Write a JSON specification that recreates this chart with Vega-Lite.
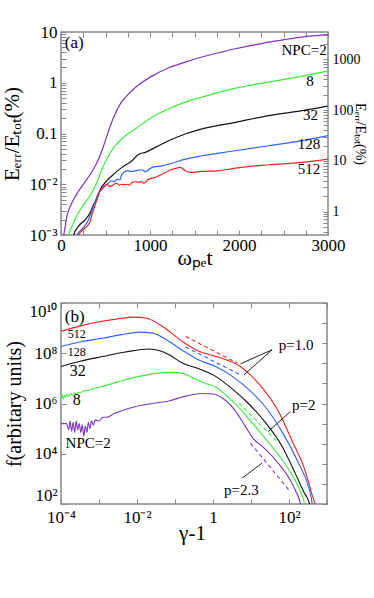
{
"$schema": "https://vega.github.io/schema/vega-lite/v6.json",
"background": "white",
"padding": {"left": 1, "top": 22, "right": 5, "bottom": 5},
"spacing": 32,
"config": {
  "font": "Liberation Serif",
  "view": {"stroke": "#888888", "strokeWidth": 1.5},
  "style": {"guide-label": {"font": "Liberation Serif"}, "guide-title": {"font": "Liberation Serif"}},
  "axis": {"domain": false, "grid": false, "tickColor": "#888888", "tickWidth": 1, "tickSize": -5, "labelPadding": 9, "labelFont": "Liberation Serif", "labelFontSize": 17, "labelColor": "black", "labelFlush": false, "labelOverlap": false, "titleFont": "Liberation Serif", "titleFontWeight": "normal", "titleColor": "black"},
  "text": {"font": "Liberation Serif", "color": "black"}
},
"datasets": {
  "energy": [
    {"t":22,"v":0.0009,"npc":"2"},{"t":30,"v":0.001,"npc":"2"},{"t":67,"v":0.00238,"npc":"2"},{"t":124,"v":0.00436,"npc":"2"},{"t":199,"v":0.0074,"npc":"2"},{"t":292,"v":0.0126,"npc":"2"},{"t":367,"v":0.0199,"npc":"2"},{"t":422,"v":0.0313,"npc":"2"},{"t":479,"v":0.0574,"npc":"2"},{"t":535,"v":0.1135,"npc":"2"},{"t":592,"v":0.209,"npc":"2"},{"t":667,"v":0.383,"npc":"2"},{"t":760,"v":0.604,"npc":"2"},{"t":873,"v":0.912,"npc":"2"},{"t":1022,"v":1.35,"npc":"2"},{"t":1210,"v":1.97,"npc":"2"},{"t":1397,"v":2.55,"npc":"2"},{"t":1584,"v":3.21,"npc":"2"},{"t":1772,"v":3.9,"npc":"2"},{"t":1959,"v":4.68,"npc":"2"},{"t":2147,"v":5.43,"npc":"2"},{"t":2334,"v":6.34,"npc":"2"},{"t":2521,"v":7.14,"npc":"2"},{"t":2708,"v":7.94,"npc":"2"},{"t":2997,"v":8.85,"npc":"2"},
    {"t":75,"v":0.0009,"npc":"8"},{"t":82,"v":0.001,"npc":"8"},{"t":124,"v":0.0015,"npc":"8"},{"t":199,"v":0.0028,"npc":"8"},{"t":273,"v":0.0044,"npc":"8"},{"t":348,"v":0.0069,"npc":"8"},{"t":404,"v":0.0109,"npc":"8"},{"t":461,"v":0.02,"npc":"8"},{"t":535,"v":0.0364,"npc":"8"},{"t":610,"v":0.0574,"npc":"8"},{"t":723,"v":0.0906,"npc":"8"},{"t":835,"v":0.123,"npc":"8"},{"t":1022,"v":0.209,"npc":"8"},{"t":1210,"v":0.305,"npc":"8"},{"t":1397,"v":0.414,"npc":"8"},{"t":1584,"v":0.519,"npc":"8"},{"t":1959,"v":0.782,"npc":"8"},{"t":2334,"v":1.03,"npc":"8"},{"t":2708,"v":1.35,"npc":"8"},{"t":2997,"v":1.69,"npc":"8"},
    {"t":135,"v":0.0009,"npc":"32"},{"t":142,"v":0.001,"npc":"32"},{"t":199,"v":0.0015,"npc":"32"},{"t":273,"v":0.002,"npc":"32"},{"t":330,"v":0.0028,"npc":"32"},{"t":367,"v":0.004,"npc":"32"},{"t":404,"v":0.0051,"npc":"32"},{"t":442,"v":0.008,"npc":"32"},{"t":498,"v":0.0109,"npc":"32"},{"t":573,"v":0.0147,"npc":"32"},{"t":685,"v":0.0215,"npc":"32"},{"t":798,"v":0.029,"npc":"32"},{"t":873,"v":0.039,"npc":"32"},{"t":948,"v":0.0425,"npc":"32"},{"t":1060,"v":0.0533,"npc":"32"},{"t":1210,"v":0.0721,"npc":"32"},{"t":1397,"v":0.0977,"npc":"32"},{"t":1584,"v":0.123,"npc":"32"},{"t":1959,"v":0.166,"npc":"32"},{"t":2334,"v":0.225,"npc":"32"},{"t":2708,"v":0.282,"npc":"32"},{"t":2997,"v":0.345,"npc":"32"},
    {"t":172,"v":0.0009,"npc":"128"},{"t":180,"v":0.001,"npc":"128"},{"t":236,"v":0.0013,"npc":"128"},{"t":303,"v":0.0019,"npc":"128"},{"t":341,"v":0.0028,"npc":"128"},{"t":379,"v":0.0044,"npc":"128"},{"t":416,"v":0.0064,"npc":"128"},{"t":461,"v":0.008,"npc":"128"},{"t":517,"v":0.01,"npc":"128"},{"t":573,"v":0.0117,"npc":"128"},{"t":600,"v":0.0112,"npc":"128"},{"t":629,"v":0.0126,"npc":"128"},{"t":660,"v":0.0122,"npc":"128"},{"t":685,"v":0.0158,"npc":"128"},{"t":742,"v":0.0184,"npc":"128"},{"t":790,"v":0.0178,"npc":"128"},{"t":835,"v":0.0184,"npc":"128"},{"t":910,"v":0.0193,"npc":"128"},{"t":948,"v":0.0176,"npc":"128"},{"t":1022,"v":0.0215,"npc":"128"},{"t":1135,"v":0.0231,"npc":"128"},{"t":1210,"v":0.0249,"npc":"128"},{"t":1397,"v":0.0313,"npc":"128"},{"t":1584,"v":0.0364,"npc":"128"},{"t":1959,"v":0.0457,"npc":"128"},{"t":2334,"v":0.0574,"npc":"128"},{"t":2708,"v":0.0721,"npc":"128"},{"t":2997,"v":0.0906,"npc":"128"},
    {"t":190,"v":0.0009,"npc":"512"},{"t":199,"v":0.001,"npc":"512"},{"t":255,"v":0.0013,"npc":"512"},{"t":303,"v":0.00156,"npc":"512"},{"t":330,"v":0.0019,"npc":"512"},{"t":356,"v":0.0028,"npc":"512"},{"t":393,"v":0.0044,"npc":"512"},{"t":430,"v":0.0069,"npc":"512"},{"t":468,"v":0.0086,"npc":"512"},{"t":517,"v":0.01,"npc":"512"},{"t":545,"v":0.0091,"npc":"512"},{"t":573,"v":0.0093,"npc":"512"},{"t":600,"v":0.0101,"npc":"512"},{"t":629,"v":0.0104,"npc":"512"},{"t":650,"v":0.0096,"npc":"512"},{"t":685,"v":0.01,"npc":"512"},{"t":710,"v":0.0098,"npc":"512"},{"t":742,"v":0.01,"npc":"512"},{"t":770,"v":0.0096,"npc":"512"},{"t":798,"v":0.0109,"npc":"512"},{"t":840,"v":0.0112,"npc":"512"},{"t":873,"v":0.011,"npc":"512"},{"t":900,"v":0.0113,"npc":"512"},{"t":929,"v":0.0105,"npc":"512"},{"t":985,"v":0.0126,"npc":"512"},{"t":1060,"v":0.0136,"npc":"512"},{"t":1135,"v":0.0158,"npc":"512"},{"t":1210,"v":0.0184,"npc":"512"},{"t":1285,"v":0.0205,"npc":"512"},{"t":1341,"v":0.0215,"npc":"512"},{"t":1397,"v":0.0184,"npc":"512"},{"t":1453,"v":0.0171,"npc":"512"},{"t":1584,"v":0.0179,"npc":"512"},{"t":1772,"v":0.0184,"npc":"512"},{"t":1959,"v":0.0208,"npc":"512"},{"t":2334,"v":0.0242,"npc":"512"},{"t":2708,"v":0.0269,"npc":"512"},{"t":2997,"v":0.0313,"npc":"512"}
  ],
  "labA": [
    {"x":2985,"y":4.33,"label":"NPC=2"},{"x":2840,"y":1.1,"label":"8"},{"x":2887,"y":0.232,"label":"32"},{"x":2914,"y":0.062,"label":"128"},{"x":2914,"y":0.02,"label":"512"}
  ],
  "labA2": [{"x":42,"y":6.15,"label":"(a)"}],
  "axA": [{"r":1},{"r":1000}],
  "spec": [
    {"g":1e-4,"f":7.41e8,"npc":"512"},{"g":3.16e-4,"f":1.2e9,"npc":"512"},{"g":1e-3,"f":1.78e9,"npc":"512"},{"g":3.16e-3,"f":2.34e9,"npc":"512"},{"g":8.51e-3,"f":2.75e9,"npc":"512"},{"g":0.017,"f":2.51e9,"npc":"512"},{"g":0.0468,"f":1.17e9,"npc":"512"},{"g":0.156,"f":2.95e8,"npc":"512"},{"g":0.398,"f":1.26e8,"npc":"512"},{"g":1.17,"f":7.59e7,"npc":"512"},{"g":5.25,"f":2.95e7,"npc":"512"},{"g":16.2,"f":6.03e6,"npc":"512"},{"g":53.7,"f":4.57e5,"npc":"512"},{"g":120,"f":3.31e4,"npc":"512"},{"g":269,"f":2000,"npc":"512"},{"g":417,"f":200,"npc":"512"},{"g":479,"f":100,"npc":"512"},{"g":500,"f":60,"npc":"512"},
    {"g":1e-4,"f":1.86e8,"npc":"128"},{"g":3.16e-4,"f":2.82e8,"npc":"128"},{"g":1.24e-3,"f":3.98e8,"npc":"128"},{"g":3.98e-3,"f":5.5e8,"npc":"128"},{"g":0.0115,"f":6.92e8,"npc":"128"},{"g":0.0257,"f":6.31e8,"npc":"128"},{"g":0.07,"f":2.95e8,"npc":"128"},{"g":0.156,"f":1.32e8,"npc":"128"},{"g":0.398,"f":5.62e7,"npc":"128"},{"g":1.17,"f":2.95e7,"npc":"128"},{"g":3.21,"f":1.2e7,"npc":"128"},{"g":8.81,"f":3.55e6,"npc":"128"},{"g":24,"f":7.24e5,"npc":"128"},{"g":66.1,"f":7.24e4,"npc":"128"},{"g":181,"f":3980,"npc":"128"},{"g":331,"f":447,"npc":"128"},{"g":407,"f":100,"npc":"128"},{"g":420,"f":60,"npc":"128"},
    {"g":1e-4,"f":2.95e7,"npc":"32"},{"g":3.16e-4,"f":4.79e7,"npc":"32"},{"g":1.24e-3,"f":7.41e7,"npc":"32"},{"g":5.01e-3,"f":1.12e8,"npc":"32"},{"g":0.0209,"f":1.48e8,"npc":"32"},{"g":0.0398,"f":1.26e8,"npc":"32"},{"g":0.07,"f":8.71e7,"npc":"32"},{"g":0.156,"f":4.07e7,"npc":"32"},{"g":0.427,"f":2.4e7,"npc":"32"},{"g":1.17,"f":1.2e7,"npc":"32"},{"g":3.21,"f":3.8e6,"npc":"32"},{"g":8.81,"f":9.55e5,"npc":"32"},{"g":24,"f":1.74e5,"npc":"32"},{"g":66.1,"f":1.95e4,"npc":"32"},{"g":148,"f":1580,"npc":"32"},{"g":251,"f":282,"npc":"32"},{"g":347,"f":100,"npc":"32"},{"g":360,"f":60,"npc":"32"},
    {"g":1e-4,"f":1.66e6,"npc":"8"},{"g":1.072e-4,"f":2.24e6,"npc":"8"},{"g":1.148e-4,"f":1.51e6,"npc":"8"},{"g":1.23e-4,"f":2.09e6,"npc":"8"},{"g":1.318e-4,"f":1.78e6,"npc":"8"},{"g":1.413e-4,"f":2.4e6,"npc":"8"},{"g":1.585e-4,"f":1.91e6,"npc":"8"},{"g":1.778e-4,"f":2.51e6,"npc":"8"},{"g":1.995e-4,"f":2.14e6,"npc":"8"},{"g":2.239e-4,"f":2.63e6,"npc":"8"},{"g":2.512e-4,"f":2.29e6,"npc":"8"},{"g":2.818e-4,"f":2.82e6,"npc":"8"},{"g":3.162e-4,"f":2.63e6,"npc":"8"},{"g":3.981e-4,"f":3.16e6,"npc":"8"},{"g":5.012e-4,"f":3.31e6,"npc":"8"},{"g":6.31e-4,"f":3.72e6,"npc":"8"},{"g":1.24e-3,"f":4.79e6,"npc":"8"},{"g":3.16e-3,"f":7.24e6,"npc":"8"},{"g":9.33e-3,"f":1.12e7,"npc":"8"},{"g":0.0316,"f":1.58e7,"npc":"8"},{"g":0.0851,"f":1.74e7,"npc":"8"},{"g":0.156,"f":1.58e7,"npc":"8"},{"g":0.316,"f":1e7,"npc":"8"},{"g":0.631,"f":6.31e6,"npc":"8"},{"g":1.17,"f":4.57e6,"npc":"8"},{"g":3.21,"f":1.26e6,"npc":"8"},{"g":8.81,"f":2.4e5,"npc":"8"},{"g":24,"f":3.98e4,"npc":"8"},{"g":66.1,"f":5750,"npc":"8"},{"g":148,"f":832,"npc":"8"},{"g":200,"f":316,"npc":"8"},{"g":257,"f":100,"npc":"8"},{"g":265,"f":60,"npc":"8"},
    {"g":1e-4,"f":1.58e5,"npc":"2"},{"g":1.413e-4,"f":1.58e5,"npc":"2"},{"g":1.585e-4,"f":8.91e4,"npc":"2"},{"g":1.738e-4,"f":2e5,"npc":"2"},{"g":1.905e-4,"f":7.94e4,"npc":"2"},{"g":2.089e-4,"f":1.78e5,"npc":"2"},{"g":2.291e-4,"f":7.08e4,"npc":"2"},{"g":2.512e-4,"f":2e5,"npc":"2"},{"g":2.754e-4,"f":8.91e4,"npc":"2"},{"g":3.02e-4,"f":1.58e5,"npc":"2"},{"g":3.311e-4,"f":7.08e4,"npc":"2"},{"g":3.631e-4,"f":1.41e5,"npc":"2"},{"g":3.981e-4,"f":5.01e4,"npc":"2"},{"g":4.365e-4,"f":1.26e5,"npc":"2"},{"g":4.786e-4,"f":7.08e4,"npc":"2"},{"g":5.248e-4,"f":1.78e5,"npc":"2"},{"g":5.754e-4,"f":1e5,"npc":"2"},{"g":6.31e-4,"f":2e5,"npc":"2"},{"g":7.079e-4,"f":1.41e5,"npc":"2"},{"g":7.943e-4,"f":2.24e5,"npc":"2"},{"g":1e-3,"f":2e5,"npc":"2"},{"g":1.259e-3,"f":2.82e5,"npc":"2"},{"g":1.585e-3,"f":2.82e5,"npc":"2"},{"g":2.512e-3,"f":3.98e5,"npc":"2"},{"g":9.33e-3,"f":7.59e5,"npc":"2"},{"g":0.0316,"f":1.05e6,"npc":"2"},{"g":0.07,"f":1.26e6,"npc":"2"},{"g":0.156,"f":1.82e6,"npc":"2"},{"g":0.525,"f":2.51e6,"npc":"2"},{"g":1,"f":2.4e6,"npc":"2"},{"g":1.75,"f":1.66e6,"npc":"2"},{"g":3.92,"f":5.01e5,"npc":"2"},{"g":7.18,"f":1.2e5,"npc":"2"},{"g":11.9,"f":3.8e4,"npc":"2"},{"g":19.5,"f":2e4,"npc":"2"},{"g":44,"f":5750,"npc":"2"},{"g":98.9,"f":1120,"npc":"2"},{"g":158,"f":282,"npc":"2"},{"g":200,"f":100,"npc":"2"},{"g":210,"f":60,"npc":"2"}
  ],
  "fits": [
    {"g":0.19,"f":4.68e8,"npc":"512"},{"g":4.35,"f":4.07e7,"npc":"512"},
    {"g":0.19,"f":1.78e8,"npc":"128"},{"g":5.25,"f":1.38e7,"npc":"128"},
    {"g":4.82,"f":1.05e6,"npc":"8"},{"g":49,"f":3.09e4,"npc":"8"},
    {"g":9.7,"f":2.63e4,"npc":"2"},{"g":98.9,"f":363,"npc":"2"}
  ],
  "leaders": [
    {"g":36,"f":1.38e8,"seg":"a"},{"g":5.3,"f":3.8e7,"seg":"a"},
    {"g":36,"f":1.38e8,"seg":"b"},{"g":6.52,"f":1.38e7,"seg":"b"},
    {"g":109,"f":4.79e5,"seg":"c"},{"g":28.2,"f":7.59e4,"seg":"c"},
    {"g":5.87,"f":1070,"seg":"d"},{"g":19.7,"f":4270,"seg":"d"}
  ],
  "labB": [
    {"g":53.7,"f":2.19e8,"label":"p=1.0"},{"g":120,"f":8.9e5,"label":"p=2"},{"g":1.95,"f":363,"label":"p=2.3"},{"g":1.32e-4,"f":2.63e4,"label":"NPC=2"}
  ],
  "labBs": [{"g":1.5e-4,"f":5.75e8,"label":"512"},{"g":1.5e-4,"f":1.17e8,"label":"128"}],
  "labBm": [{"g":1.7e-4,"f":1.9e7,"label":"32"},{"g":2.04e-4,"f":1.41e6,"label":"8"}],
  "labB2": [{"g":1.26e-4,"f":2.9e9,"label":"(b)"}]
},
"vconcat": [
  {
    "width": 267, "height": 203,
    "resolve": {"scale": {"y": "independent"}, "axis": {"x": "independent", "y": "independent"}},
    "layer": [
      {
        "data": {"name": "energy"},
        "mark": {"type": "line", "strokeWidth": 1.2, "clip": true, "interpolate": "monotone"},
        "encoding": {
          "x": {"field": "t", "type": "quantitative", "scale": {"domain": [0, 3000], "nice": false, "zero": false},
                "axis": {"orient": "bottom", "title": "ωₚₑt", "titleFont": "Liberation Serif", "labelFont": "Liberation Serif", "titleFontSize": 22, "titleY": 22, "titleBaseline": "middle", "labelPadding": 7,
                         "values": [0,250,500,750,1000,1250,1500,1750,2000,2250,2500,2750,3000],
                         "labelExpr": "datum.value % 1000 === 0 ? '' + datum.value : ''"}},
          "y": {"field": "v", "type": "quantitative", "scale": {"type": "log", "domain": [0.001, 10], "nice": false},
                "axis": {"orient": "left", "title": "Eₑᵣᵣ/Eₜₒₜ(%)", "titleFont": "Liberation Serif", "labelFont": "Liberation Serif", "titleFontSize": 21, "titlePadding": 6,
                         "values": [0.001,0.002,0.003,0.004,0.005,0.006,0.007,0.008,0.009,0.01,0.02,0.03,0.04,0.05,0.06,0.07,0.08,0.09,0.1,0.2,0.3,0.4,0.5,0.6,0.7,0.8,0.9,1,2,3,4,5,6,7,8,9,10],
                         "labelExpr": "datum.value == 0.001 ? '10⁻³' : datum.value == 0.01 ? '10⁻²' : datum.value == 0.1 ? '0.1' : datum.value == 1 ? '1' : datum.value == 10 ? '10' : ''"}},
          "color": {"field": "npc", "type": "nominal", "scale": {"domain": ["2","8","32","128","512"], "range": ["#7B35C0","#3CEB3C","#111111","#2E63F5","#F52020"]}, "legend": null}
        }
      },
      {
        "data": {"name": "labA"},
        "mark": {"type": "text", "align": "right", "baseline": "middle", "fontSize": 15},
        "encoding": {
          "x": {"field": "x", "type": "quantitative", "scale": {"domain": [0, 3000], "nice": false, "zero": false},
                "axis": {"orient": "top", "title": null, "labels": false, "values": [0,250,500,750,1000,1250,1500,1750,2000,2250,2500,2750,3000]}},
          "y": {"field": "y", "type": "quantitative", "scale": {"type": "log", "domain": [0.001, 10], "nice": false}, "axis": null},
          "text": {"field": "label"}
        }
      },
      {
        "data": {"name": "labA2"},
        "mark": {"type": "text", "align": "left", "baseline": "middle", "fontSize": 17},
        "encoding": {
          "x": {"field": "x", "type": "quantitative", "scale": {"domain": [0, 3000], "nice": false, "zero": false}, "axis": null},
          "y": {"field": "y", "type": "quantitative", "scale": {"type": "log", "domain": [0.001, 10], "nice": false}, "axis": null},
          "text": {"field": "label"}
        }
      },
      {
        "data": {"name": "axA"},
        "mark": {"type": "point", "opacity": 0},
        "encoding": {
          "y": {"field": "r", "type": "quantitative", "scale": {"type": "log", "domain": [0.345, 3450], "nice": false},
                "axis": {"orient": "right", "title": "Eₑᵣᵣ/Eₜₒₜ(%)", "titleFont": "Liberation Serif", "labelFont": "Liberation Serif", "titleFontSize": 14, "titleX": 31, "titleBaseline": "middle", "labelFontSize": 14, "labelPadding": 9,
                         "values": [0.4,0.5,0.6,0.7,0.8,0.9,1,2,3,4,5,6,7,8,9,10,20,30,40,50,60,70,80,90,100,200,300,400,500,600,700,800,900,1000,2000,3000],
                         "labelExpr": "datum.value == 1 ? '1' : datum.value == 10 ? '10' : datum.value == 100 ? '100' : datum.value == 1000 ? '1000' : ''"}}
        }
      }
    ]
  },
  {
    "width": 266, "height": 201,
    "resolve": {"axis": {"x": "independent", "y": "independent"}},
    "layer": [
      {
        "data": {"name": "spec"},
        "mark": {"type": "line", "strokeWidth": 1.1, "clip": true, "interpolate": "monotone"},
        "encoding": {
          "x": {"field": "g", "type": "quantitative", "scale": {"type": "log", "domain": [0.0001, 1000], "nice": false},
                "axis": {"orient": "bottom", "title": "γ-1", "titleFont": "Liberation Serif", "labelFont": "Liberation Serif", "titleFontSize": 21, "titleY": 29, "titleX": 131, "titleBaseline": "middle", "labelPadding": 10,
                         "values": [0.0001,0.001,0.01,0.1,1,10,100,1000],
                         "labelExpr": "datum.value == 0.0001 ? '10⁻⁴' : datum.value == 0.01 ? '10⁻²' : datum.value == 1 ? '1' : datum.value == 100 ? '10²' : ''"}},
          "y": {"field": "f", "type": "quantitative", "scale": {"type": "log", "domain": [100, 1e10], "nice": false},
                "axis": {"orient": "left", "title": "f(arbitary units)", "titleFont": "Liberation Serif", "labelFont": "Liberation Serif", "titleFontSize": 20, "titlePadding": 4, "labelFlush": 4,
                         "values": [100, 10000, 1000000, 100000000, 10000000000],
                         "labelExpr": "datum.value == 100 ? '10²' : datum.value == 10000 ? '10⁴' : datum.value == 1000000 ? '10⁶' : datum.value == 100000000 ? '10⁸' : '10¹⁰'"}},
          "color": {"field": "npc", "type": "nominal", "scale": {"domain": ["2","8","32","128","512"], "range": ["#7B35C0","#3CEB3C","#111111","#2E63F5","#F52020"]}, "legend": null}
        }
      },
      {
        "data": {"name": "fits"},
        "mark": {"type": "line", "strokeWidth": 1.1, "strokeDash": [4, 3]},
        "encoding": {
          "x": {"field": "g", "type": "quantitative", "scale": {"type": "log", "domain": [0.0001, 1000], "nice": false}, "axis": null},
          "y": {"field": "f", "type": "quantitative", "scale": {"type": "log", "domain": [100, 1e10], "nice": false}, "axis": null},
          "color": {"field": "npc", "type": "nominal", "legend": null}
        }
      },
      {
        "data": {"name": "leaders"},
        "mark": {"type": "line", "strokeWidth": 1, "color": "#222222"},
        "encoding": {
          "x": {"field": "g", "type": "quantitative", "scale": {"type": "log", "domain": [0.0001, 1000], "nice": false}, "axis": null},
          "y": {"field": "f", "type": "quantitative", "scale": {"type": "log", "domain": [100, 1e10], "nice": false}, "axis": null},
          "detail": {"field": "seg"}
        }
      },
      {
        "data": {"name": "labB"},
        "mark": {"type": "text", "align": "left", "baseline": "middle", "fontSize": 15},
        "encoding": {
          "x": {"field": "g", "type": "quantitative", "scale": {"type": "log", "domain": [0.0001, 1000], "nice": false}, "axis": null},
          "y": {"field": "f", "type": "quantitative", "scale": {"type": "log", "domain": [100, 1e10], "nice": false}, "axis": null},
          "text": {"field": "label"}
        }
      },
      {
        "data": {"name": "labBs"},
        "mark": {"type": "text", "align": "left", "baseline": "middle", "fontSize": 12},
        "encoding": {
          "x": {"field": "g", "type": "quantitative", "scale": {"type": "log", "domain": [0.0001, 1000], "nice": false}, "axis": null},
          "y": {"field": "f", "type": "quantitative", "scale": {"type": "log", "domain": [100, 1e10], "nice": false}, "axis": null},
          "text": {"field": "label"}
        }
      },
      {
        "data": {"name": "labBm"},
        "mark": {"type": "text", "align": "left", "baseline": "middle", "fontSize": 16},
        "encoding": {
          "x": {"field": "g", "type": "quantitative", "scale": {"type": "log", "domain": [0.0001, 1000], "nice": false}, "axis": null},
          "y": {"field": "f", "type": "quantitative", "scale": {"type": "log", "domain": [100, 1e10], "nice": false}, "axis": null},
          "text": {"field": "label"}
        }
      },
      {
        "data": {"name": "labB2"},
        "mark": {"type": "text", "align": "left", "baseline": "middle", "fontSize": 17},
        "encoding": {
          "x": {"field": "g", "type": "quantitative", "scale": {"type": "log", "domain": [0.0001, 1000], "nice": false},
                "axis": {"orient": "top", "title": null, "labels": false, "values": [0.0001,0.001,0.01,0.1,1,10,100,1000]}},
          "y": {"field": "f", "type": "quantitative", "scale": {"type": "log", "domain": [100, 1e10], "nice": false},
                "axis": {"orient": "right", "title": null, "labels": false, "values": [100, 630.96, 3981.07, 25118.9, 158489.3, 1000000, 6309573, 39810717, 251188643, 1584893192, 10000000000]}},
          "text": {"field": "label"}
        }
      }
    ]
  }
]
}
